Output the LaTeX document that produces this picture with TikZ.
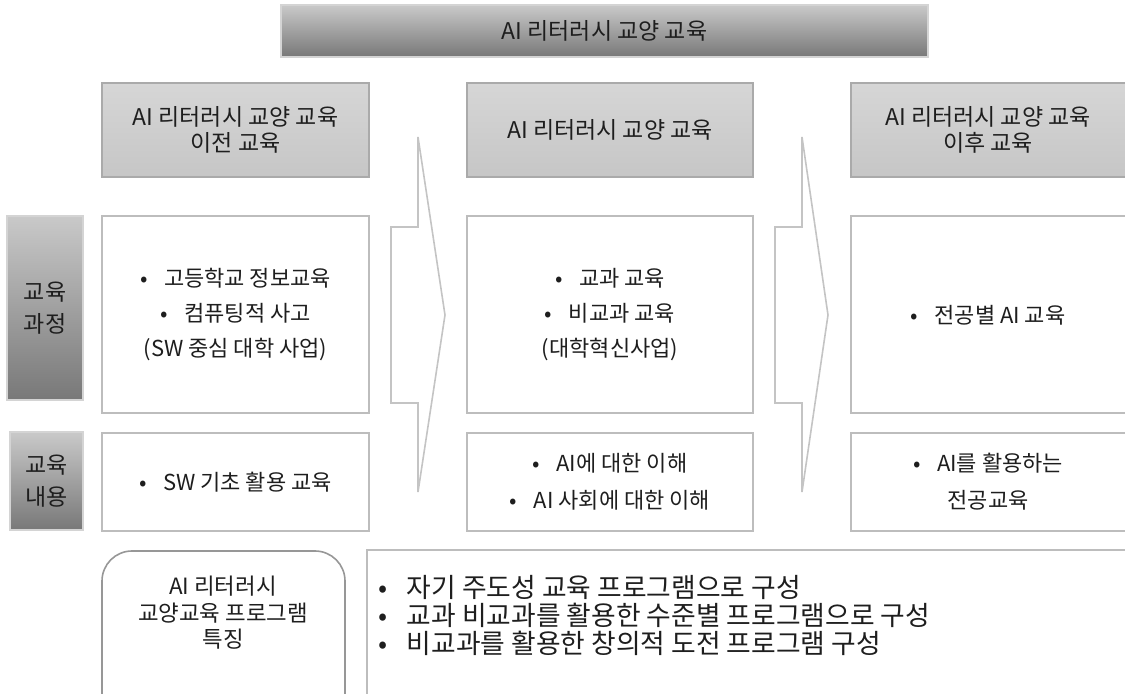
\documentclass[tikz,border=0pt]{standalone}
\usepackage{fontspec}
\setmainfont{Noto Sans CJK KR}
\usetikzlibrary{fit}
\definecolor{edge}{HTML}{BDBDBD}
\definecolor{arrowedge}{HTML}{C4C4C4}
\definecolor{ink}{HTML}{1E1E1E}
\definecolor{darkg}{HTML}{787878}
\definecolor{lightg}{HTML}{C9C9C9}
\definecolor{hdrtop}{HTML}{D6D6D6}
\definecolor{hdrbot}{HTML}{C6C6C6}
\tikzset{
  every node/.style={text=ink, inner sep=0pt},
  banner/.style={draw=lightg!80!white, line width=1pt, top color=lightg, bottom color=darkg},
  hdr/.style={draw=edge!90!black, line width=1pt, top color=hdrtop, bottom color=hdrbot},
  side/.style={draw=lightg!80!white, line width=0.8pt, top color=lightg, bottom color=darkg},
  cbox/.style={draw=edge, line width=1pt, fill=white},
  htext/.style={align=center, font=\fontsize{11.5pt}{12.8pt}\selectfont},
  stext/.style={align=center, font=\fontsize{11.5pt}{16pt}\selectfont},
  ctext/.style={align=center, font=\fontsize{11pt}{17.5pt}\selectfont},
  ctext2/.style={align=center, font=\fontsize{11pt}{18.5pt}\selectfont},
  rbox/.style={draw=edge!80!black, line width=0.8pt, rounded corners=15pt, fill=white},
  rtext/.style={align=center, font=\fontsize{11.2pt}{13.3pt}\selectfont},
  bigtext/.style={align=left, anchor=west, font=\fontsize{13.4pt}{14pt}\selectfont},
  blockarrow/.style={draw=arrowedge, line width=0.8pt, fill=white}
}
\newcommand{\bul}{•\hspace{0.75em}}
\begin{document}
\begin{tikzpicture}[x=0.5pt,y=-0.5pt]
\useasboundingbox (0,0) rectangle (1125,694);
% top banner
\node[banner, fit={(281,5) (928,57)}] (banner) {};
\node[htext] at (banner.center) (bannertext) {AI 리터러시 교양 교육};
% headers
\node[hdr, fit={(102,83) (369,177)}] (h1) {};
\node[htext] at (h1.center) (h1t) {AI 리터러시 교양 교육\\이전 교육};
\node[hdr, fit={(467,83) (753,177)}] (h2) {};
\node[htext] at (h2.center) (h2t) {AI 리터러시 교양 교육};
\node[hdr, fit={(851,83) (1136,177)}] (h3) {};
\node[htext] at (988,130) (h3t) {AI 리터러시 교양 교육\\이후 교육};
% side labels
\node[side, fit={(7,216) (83,400)}] (s1) {};
\node[stext] at (s1.center) (s1t) {교육\\과정};
\node[side, fit={(10,432) (83,530)}] (s2) {};
\node[stext] at (s2.center) (s2t) {교육\\내용};
% block arrows
\draw[blockarrow] (391,227) -- (418,227) -- (418,137) -- (445,315) -- (418,492) -- (418,403) -- (391,403) -- cycle;
\draw[blockarrow] (775,227) -- (802,227) -- (802,137) -- (828,315) -- (802,492) -- (802,403) -- (775,403) -- cycle;
% row 1
\node[cbox, fit={(102,216) (369,413)}] (c1) {};
\node[ctext] at (c1.center) (c1t) {\bul 고등학교 정보교육\\\bul 컴퓨팅적 사고\\(SW 중심 대학 사업)};
\node[cbox, fit={(467,216) (753,413)}] (c2) {};
\node[ctext] at (c2.center) (c2t) {\bul 교과 교육\\\bul 비교과 교육\\(대학혁신사업)};
\node[cbox, fit={(851,216) (1136,413)}] (c3) {};
\node[ctext] at (988,315) (c3t) {\bul 전공별 AI 교육};
% row 2
\node[cbox, fit={(102,433) (369,531)}] (d1) {};
\node[ctext] at (d1.center) (d1t) {\bul SW 기초 활용 교육};
\node[cbox, fit={(467,433) (753,531)}] (d2) {};
\node[ctext2] at (d2.center) (d2t) {\bul AI에 대한 이해\\\bul AI 사회에 대한 이해};
\node[cbox, fit={(851,433) (1136,531)}] (d3) {};
\node[ctext2] at (988,482) (d3t) {\bul AI를 활용하는\\전공교육};
% bottom
\node[rbox, fit={(102,551) (345,730)}] (r1) {};
\node[rtext] at (223,613) (r1t) {AI 리터러시\\교양교육 프로그램\\특징};
\node[cbox, fit={(367,550) (1136,730)}] (b1) {};
\node[bigtext] at (378,615) (b1t) {•\hspace{0.5em} 자기 주도성 교육 프로그램으로 구성\\•\hspace{0.5em} 교과 비교과를 활용한 수준별 프로그램으로 구성\\•\hspace{0.5em} 비교과를 활용한 창의적 도전 프로그램 구성};
\end{tikzpicture}
\end{document}
